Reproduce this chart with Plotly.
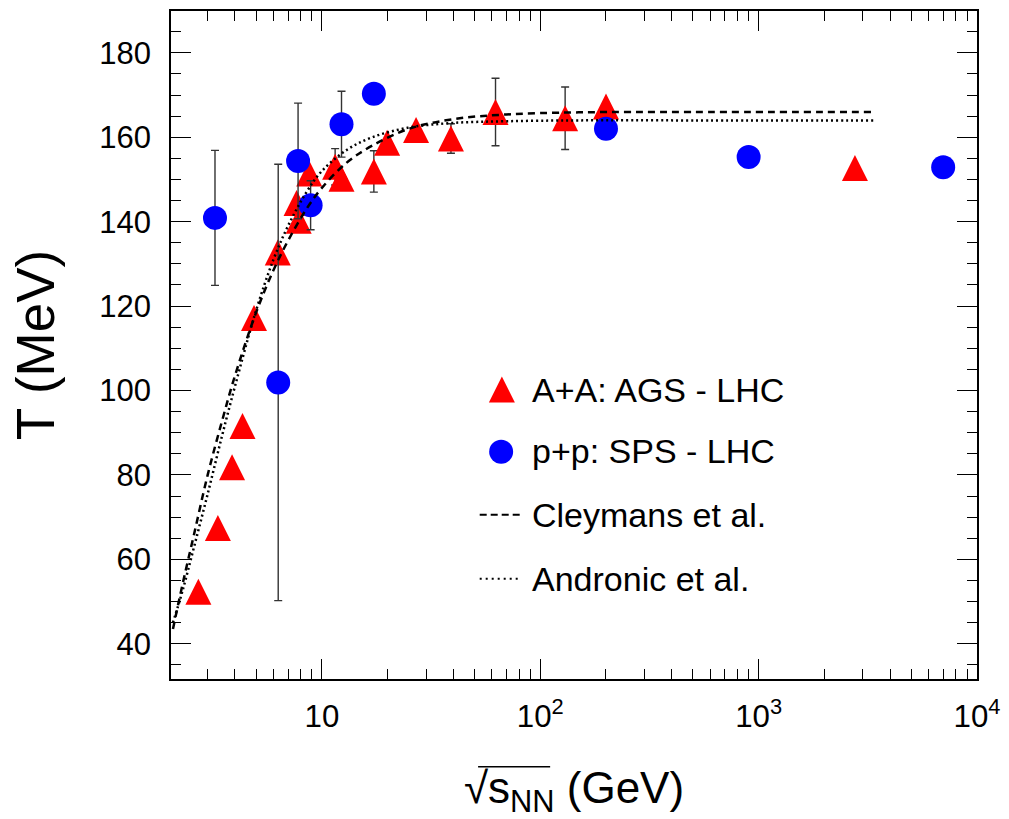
import plotly.graph_objects as go

# ---- data ----
aa_x = [2.72, 3.34, 3.88, 4.33, 4.89, 6.28, 7.66, 7.83, 8.75, 11.5, 12.3, 17.3,
        19.9, 27.0, 39.0, 62.4, 130, 200, 2760]
aa_T = [52.3, 67.4, 81.8, 91.6, 117.2, 132.7, 144.4, 140.2, 151.4, 153.0, 150.2, 151.9,
        158.7, 161.7, 159.7, 166.0, 164.5, 167.3, 152.7]
aa_err = [0, 0, 0, 0, 0, 0, 0, 0, 0, 4.3, 0, 4.9,
          0, 0, 3.5, 8.0, 7.4, 0, 0]

pp_x = [3.24, 6.31, 7.78, 8.88, 12.3, 17.3, 200, 900, 7000]
pp_T = [140.9, 101.9, 154.4, 143.9, 163.1, 170.3, 162.0, 155.3, 152.9]
pp_err = [16.0, 51.7, 13.7, 5.8, 7.8, 0, 0, 0, 0]

curve_x = [2.08, 2.3, 2.6, 3.0, 3.5, 4.0, 5.0, 6.0, 7.0, 8.5, 10, 13, 17, 25, 40, 70,
           150, 500, 3400]
cley_T = [43.5, 54.0, 66.0, 80.0, 93.0, 103.5, 118.5, 128.5, 135.5, 143.0, 148.0, 154.0,
          158.0, 162.0, 164.3, 165.4, 165.9, 166.0, 166.0]
andr_T = [45.0, 52.5, 63.0, 75.5, 89.5, 101.0, 119.0, 131.0, 139.0, 147.0, 152.0, 157.0,
          160.0, 162.3, 163.4, 163.8, 164.0, 164.0, 164.0]

legend_labels = ["A+A: AGS - LHC", "p+p: SPS - LHC", "Cleymans et al.", "Andronic et al."]

RED = "#ff0000"
BLUE = "#0000ff"
FONT = "Liberation Sans, Arial, Helvetica, sans-serif"

fig = go.Figure()

tri_marker = dict(symbol="arrow-down", angle=180, standoff=13, size=26, color=RED,
                  line=dict(width=0))
dot_marker = dict(symbol="circle", size=24, color=BLUE, line=dict(width=0))

fig.add_trace(go.Scatter(
    x=aa_x, y=aa_T, mode="markers", name=legend_labels[0], marker=tri_marker,
    error_y=dict(type="data", array=aa_err, visible=True, color="#333333",
                 thickness=1.4, width=4)))
fig.add_trace(go.Scatter(
    x=pp_x, y=pp_T, mode="markers", name=legend_labels[1], marker=dot_marker,
    error_y=dict(type="data", array=pp_err, visible=True, color="#333333",
                 thickness=1.4, width=4)))
fig.add_trace(go.Scatter(
    x=curve_x, y=cley_T, mode="lines", name=legend_labels[2],
    line=dict(color="black", width=2.5, dash="7px,5px", shape="spline")))
fig.add_trace(go.Scatter(
    x=curve_x, y=andr_T, mode="lines", name=legend_labels[3],
    line=dict(color="black", width=2.5, dash="2px,3px", shape="spline")))

# ---- hand-built legend (hidden overlay axes in plot-area fractions) ----
fig.add_trace(go.Scatter(x=[0.4105], y=[0.4334], mode="markers", marker=tri_marker,
                         xaxis="x2", yaxis="y2", hoverinfo="skip"))
fig.add_trace(go.Scatter(x=[0.4096], y=[0.3403], mode="markers", marker=dot_marker,
                         xaxis="x2", yaxis="y2", hoverinfo="skip"))

shapes = [
    dict(type="line", xref="paper", yref="paper", x0=0.383, x1=0.4363, y0=0.2458, y1=0.2458,
         line=dict(color="black", width=2, dash="7px,4px")),
    dict(type="line", xref="paper", yref="paper", x0=0.383, x1=0.4314, y0=0.1499, y1=0.1499,
         line=dict(color="black", width=2, dash="2px,4px")),
    # overline of the square root in the x-axis title
    dict(type="line", xref="paper", yref="paper", x0=0.381, x1=0.4704, y0=-0.1313, y1=-0.1313,
         line=dict(color="black", width=1.6)),
]
leg_y = [0.4324, 0.3414, 0.2458, 0.1499]
annotations = [
    dict(text=t, x=0.445, y=yy, xref="paper", yref="paper", xanchor="left",
         yanchor="middle", showarrow=False, font=dict(size=34, family=FONT, color="black"))
    for t, yy in zip(legend_labels, leg_y)
]

fig.update_layout(
    width=1009, height=819,
    margin=dict(l=171, r=26, t=9, b=140),
    paper_bgcolor="white", plot_bgcolor="white",
    showlegend=False,
    font=dict(family=FONT, color="black"),
    shapes=shapes, annotations=annotations,
    xaxis2=dict(overlaying="x", range=[0, 1], visible=False),
    yaxis2=dict(overlaying="y", range=[0, 1], visible=False),
)

fig.update_layout(xaxis=dict(
    type="log", range=[0.3091, 4.0], dtick=1, exponentformat="power",
    ticks="inside", ticklen=20, tickwidth=1.3, tickcolor="black",
    showline=True, linewidth=1.6, linecolor="black", mirror="allticks",
    showgrid=False, zeroline=False,
    minor=dict(ticks="inside", ticklen=10, dtick="D1", tickwidth=1.3,
               tickcolor="black", showgrid=False),
    tickfont=dict(size=25, family=FONT), ticklabelstandoff=10,
    title=dict(text="√s<sub>NN</sub> (GeV)",
               font=dict(size=44, family=FONT), standoff=40),
))
fig.update_layout(yaxis=dict(
    range=[31.64, 189.92], tick0=40, dtick=20,
    ticks="inside", ticklen=20, tickwidth=1.3, tickcolor="black",
    showline=True, linewidth=1.6, linecolor="black", mirror="allticks",
    showgrid=False, zeroline=False,
    minor=dict(ticks="inside", ticklen=10, dtick=5, tickwidth=1.3,
               tickcolor="black", showgrid=False),
    tickfont=dict(size=31, family=FONT), ticklabelstandoff=12,
    title=dict(text="T (MeV)", font=dict(size=53, family=FONT), standoff=28),
))

fig.write_html("out.html")
